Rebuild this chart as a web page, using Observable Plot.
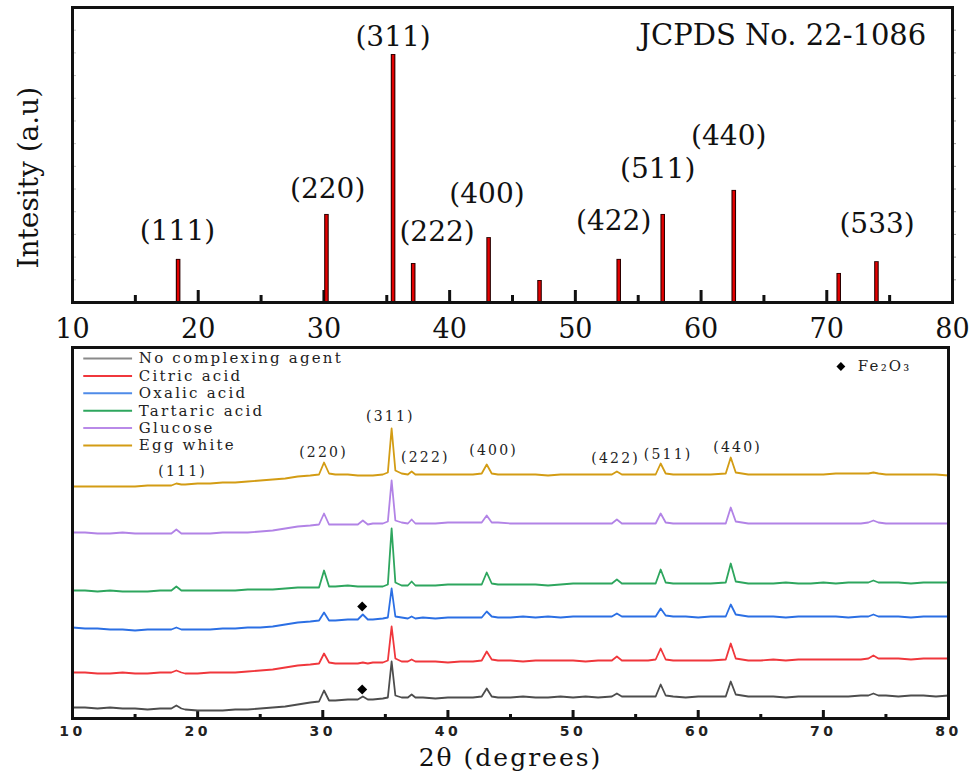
<!DOCTYPE html>
<html><head><meta charset="utf-8">
<script src="https://cdn.jsdelivr.net/npm/d3@7"></script>
<script src="https://cdn.jsdelivr.net/npm/@observablehq/plot@0.6"></script>
<style>
body{margin:0;background:#fff;}
#wrap{position:relative;width:980px;height:780px;overflow:hidden;}
#topPanel{position:absolute;left:0;top:0;}
#botPanel{position:absolute;left:0;top:340px;}
</style></head>
<body><div id="wrap"><div id="topPanel"></div><div id="botPanel"></div></div>
<script>
// ---------- Top panel: JCPDS No. 22-1086 reference pattern ----------
const jcpdsPos = [18.4, 30.2, 35.5, 37.1, 43.1, 47.15, 53.45, 56.95, 62.6, 70.95, 73.95];
const jcpdsInt = [19, 38.8, 109.3, 17.2, 28.6, 9.7, 19, 38.8, 49.4, 12.8, 18];
const topHkl = ["(111)", "(220)", "(311)", "(222)", "(400)", "(422)", "(511)", "(440)", "(533)"];
const topHklX = [18.35, 30.3, 35.5, 39.0, 42.97, 53.05, 56.55, 62.2, 74.0];
const topHklY = [31.3, 49.8, 116.8, 30.9, 47.6, 36.1, 58.6, 73.2, 34.4];
const xTickLabels = [10, 20, 30, 40, 50, 60, 70, 80];
const majorTicks = [20, 30, 40, 50, 60, 70];
const minorTicks = [15, 25, 35, 45, 55, 65, 75];
const yTicks = [10, 20, 30, 40, 50, 60, 70, 80, 90, 100, 110, 120];

// ---------- Bottom panel: XRD patterns ----------
const seriesNames = ["No complexing agent", "Citric acid", "Oxalic acid", "Tartaric acid", "Glucose", "Egg white"];
const seriesColors = ["#4d4d4d", "#f0373c", "#2b6fe4", "#2ea65e", "#b283e6", "#d39c14"];
const legendColors = ["#8a8a8a", "#f0373c", "#4f8be8", "#2ea65e", "#b98ae8", "#d39c14"];
const twoTheta = [10,11,12,13,14,15,16,17,17.9,18.3,18.7,19,20,21,22,23,24,25,26,27,28,29,29.7,30.1,30.5,31,32,32.8,33.2,33.6,34,34.8,35.2,35.5,35.8,36.3,36.8,37.1,37.4,38,39,40,41,42,42.7,43.1,43.5,44,45,46,47,48,49,50,51,52,53.1,53.5,53.9,55,56,56.6,57.0,57.4,58,59,60,61,62.2,62.6,63.0,64,65,66,67,68,69,70,71,72,73,73.6,74.0,74.4,75,76,77,78,79,80];
const noAgent = [11,11,10,11,10,10,9,10, 10,13,10, 9,8,8,8,9,9,10,11,12,14,16, 17,28,18, 18,19, 19,22,19, 19,20, 21,57,23, 21, 21,24,21, 21,20,21,21,21, 22,30,22, 21,21,22,21,21,22,21,22,21, 22,25,22, 22,22, 22,34,23, 22,21,22,22, 22,37,24, 22,22,22,21,22,22,22,22,22,23, 23,25,23, 23,22,23,23,22,23];
const citric = [46,46,45,45,46,45,45,46, 46,48,46, 45,45,46,46,46,47,48,49,51,53,54, 55,65,56, 55,55, 55,56,55, 56,56, 58,92,60, 57, 57,59,57, 57,57,56,57,57, 58,67,59, 58,58,57,58,58,58,58,57,58, 58,62,58, 58,58, 59,70,59, 58,58,58,58, 59,75,60, 58,58,59,58,59,59,59,59,59,59, 60,63,60, 60,60,59,60,60,60];
const oxalic = [91,90,90,89,89,88,89,89, 89,91,89, 89,89,89,90,90,91,91,92,94,96,97, 98,106,98, 98,99, 99,104,99, 99,100, 101,130,102, 101, 100,102,100, 101,100,101,101,101, 101,107,102, 101,101,102,101,102,101,102,102,102, 102,105,102, 102,102, 102,110,103, 102,102,101,102, 102,114,104, 102,102,102,101,102,102,102,102,101,102, 102,104,102, 102,102,101,102,102,102];
const tartaric = [128,128,127,128,127,127,127,128, 128,132,128, 128,128,128,128,128,129,129,129,130,131,131, 131,148,132, 132,133, 132,132,132, 132,132, 134,190,136, 133, 133,137,133, 133,133,134,134,134, 134,146,135, 134,134,134,134,133,134,135,135,135, 135,139,135, 135,135, 135,149,136, 135,135,135,135, 136,155,137, 135,135,135,136,135,135,136,135,136,136, 136,138,136, 136,136,135,136,136,136];
const glucose = [186,186,185,185,186,185,185,185, 185,189,185, 185,185,185,186,186,186,187,188,190,192,193, 194,205,194, 194,194, 194,198,194, 195,195, 197,238,198, 196, 195,199,195, 195,195,196,196,196, 196,203,196, 196,195,195,195,195,195,195,195,195, 195,199,195, 195,195, 195,205,196, 195,195,195,195, 195,211,197, 195,195,195,195,195,195,195,195,195,195, 196,198,196, 195,195,195,195,195,195];
const eggWhite = [232,232,232,232,232,232,233,233, 233,235,234, 234,235,235,236,236,237,238,239,240,242,243, 244,256,245, 244,244, 243,243,243, 243,244, 246,290,248, 245, 244,247,244, 244,244,244,244,244, 245,254,245, 244,244,244,244,243,244,244,244,244, 244,247,244, 244,244, 244,255,245, 244,244,244,244, 245,261,246, 244,244,244,244,244,244,244,245,245,245, 245,246,245, 244,244,244,244,244,243];
const seriesValues = [noAgent, citric, oxalic, tartaric, glucose, eggWhite];
const botHkl = ["(111)", "(220)", "(311)", "(222)", "(400)", "(422)", "(511)", "(440)"];
const botHklX = [18.8, 30.06, 35.4, 38.2, 43.65, 53.4, 57.6, 63.15];
const botHklY = [247, 266, 302, 261, 268, 260, 264, 271];
const fe2o3X = [33.15, 33.15];
const fe2o3Y = [112, 29];

// ---------- Top plot ----------
const bars = jcpdsPos.map((x, i) => ({x, h: jcpdsInt[i]}));
const topLabels = topHkl.map((t, i) => ({t, x: topHklX[i], y: topHklY[i]}));
const serif = "DejaVu Serif";

const topPlot = Plot.plot({
  width: 980, height: 350,
  marginTop: 7, marginBottom: 48, marginLeft: 72, marginRight: 28,
  x: {domain: [10, 80]},
  y: {domain: [0, 130]},
  style: {background: "transparent", color: "#111"},
  marks: [
    Plot.axisX({ticks: xTickLabels, tickSize: 0, tickPadding: 16, fontSize: 27, fontFamily: serif, label: null, fill: "#111"}),
    Plot.axisY({ticks: yTicks, anchor: "right", tickSize: 3, tickFormat: () => "", label: null, stroke: "#999"}),
    Plot.tickY(yTicks, {y: d => d, insetRight: 876, stroke: "#c4c4c4"}),
    Plot.tickX(majorTicks, {x: d => d, insetTop: 283, strokeWidth: 3}),
    Plot.tickX(minorTicks, {x: d => d, insetTop: 288, strokeWidth: 3}),
    Plot.ruleX(bars, {x: "x", y1: 0, y2: "h", stroke: "#2a0000", strokeWidth: 4.6}),
    Plot.ruleX(bars, {x: "x", y1: 0, y2: d => d.h - 0.4, stroke: "#e30000", strokeWidth: 2.4}),
    Plot.text(topLabels, {x: "x", y: "y", text: "t", fontSize: 28, fontFamily: serif, fill: "#111"}),
    Plot.text(["JCPDS No. 22-1086"], {x: 66.5, y: 117.7, text: d => d, fontSize: 29, fontFamily: serif, fill: "#111"}),
    Plot.text(["Intesity (a.u)"], {x: 6.58, y: 55, rotate: -90, text: d => d, fontSize: 28, fontFamily: serif, fill: "#111"}),
    Plot.frame({strokeWidth: 3, stroke: "#111"})
  ]
});
document.getElementById("topPanel").appendChild(topPlot);

// ---------- Bottom plot ----------
const rows = seriesNames.flatMap((name, i) => twoTheta.map((x, j) => ({series: name, x, y: seriesValues[i][j]})));
const legendRows = seriesNames.map((name, i) => ({name, color: legendColors[i], y: 360 - i * 17.4}));
const botLabels = botHkl.map((t, i) => ({t, x: botHklX[i], y: botHklY[i]}));
const diamonds = fe2o3X.map((x, i) => ({x, y: fe2o3Y[i]}));

const botPlot = Plot.plot({
  width: 980, height: 440,
  marginTop: 7, marginBottom: 62, marginLeft: 72, marginRight: 32,
  x: {domain: [10, 80]},
  y: {domain: [0, 371], axis: null},
  color: {domain: seriesNames, range: seriesColors},
  style: {background: "transparent", color: "#111", letterSpacing: "2.2px"},
  marks: [
    Plot.axisX({ticks: xTickLabels, tickSize: 0, tickPadding: 8, fontSize: 14, fontWeight: "bold", fontFamily: "DejaVu Sans", label: null, fill: "#222"}),
    Plot.tickX(majorTicks, {x: d => d, insetTop: 363, strokeWidth: 3}),
    Plot.tickX(minorTicks, {x: d => d, insetTop: 367, strokeWidth: 3}),
    Plot.line(rows, {x: "x", y: "y", z: "series", stroke: "series", strokeWidth: 1.8}),
    Plot.ruleY(legendRows, {y: "y", x1: 10.9, x2: 14.8, stroke: "color", strokeWidth: 2}),
    Plot.text(legendRows, {x: 15.3, y: "y", text: "name", textAnchor: "start", fontSize: 15, fontFamily: serif, fill: "#222"}),
    Plot.text(botLabels, {x: "x", y: "y", text: "t", fontSize: 14, fontFamily: serif, fill: "#222"}),
    Plot.dot(diamonds, {x: "x", y: "y", symbol: "diamond2", r: 4.5, fill: "#000", stroke: "none"}),
    Plot.dot([0], {x: 71.4, y: 352, symbol: "diamond2", r: 4, fill: "#000", stroke: "none"}),
    Plot.text(["Fe₂O₃"], {x: 72.75, y: 352, text: d => d, textAnchor: "start", fontSize: 15, fontFamily: serif, fill: "#222"}),
    Plot.text(["2θ (degrees)"], {frameAnchor: "bottom", dy: 47, text: d => d, fontSize: 25, fontFamily: serif, fill: "#111"}),
    Plot.frame({strokeWidth: 3, stroke: "#111"})
  ]
});
document.getElementById("botPanel").appendChild(botPlot);
botPlot.querySelectorAll('g[aria-label="x-axis tick label"] text').forEach(t => t.style.letterSpacing = "3.5px");
botPlot.querySelectorAll('text').forEach(t => { if (t.textContent === "2θ (degrees)") t.style.letterSpacing = "2px"; });
</script>
</body></html>
